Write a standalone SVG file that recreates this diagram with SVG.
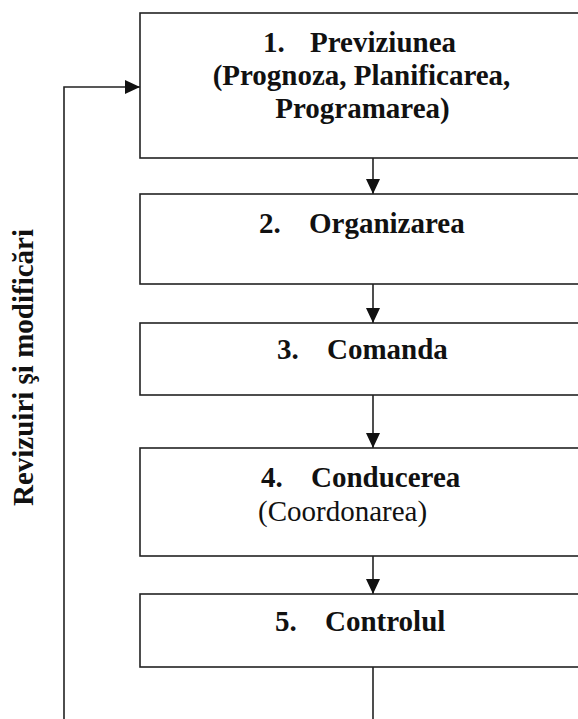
<svg xmlns="http://www.w3.org/2000/svg" width="578" height="719" viewBox="0 0 578 719">
<style>
.box{fill:#fff;stroke:#222;stroke-width:1.6}
.t{font-family:"Liberation Serif","Times New Roman",serif;font-size:29px;font-weight:bold;fill:#111}
.r{font-weight:normal}
.c{fill:none;stroke:#222;stroke-width:1.6}
</style>
<defs>
<marker id="ah" markerUnits="userSpaceOnUse" markerWidth="16" markerHeight="14" refX="15" refY="7" orient="auto">
<path d="M0,0 L15,7 L0,14 Z" fill="#111"/>
</marker>
</defs>
<rect width="578" height="719" fill="#fff"/>
<g id="connectors">
<line class="c" x1="373" y1="158" x2="373" y2="194" marker-end="url(#ah)"/>
<line class="c" x1="373" y1="284" x2="373" y2="323" marker-end="url(#ah)"/>
<line class="c" x1="373" y1="395" x2="373" y2="448" marker-end="url(#ah)"/>
<line class="c" x1="373" y1="556" x2="373" y2="594" marker-end="url(#ah)"/>
<line class="c" x1="373" y1="667" x2="373" y2="719"/>
<polyline class="c" points="64,719 64,87 140,87" marker-end="url(#ah)"/>
</g>
<g id="node1">
<rect class="box" x="140" y="13" width="450" height="145"/>
<text class="t"><tspan x="263" y="52">1.</tspan><tspan x="310" y="52">Previziunea</tspan></text>
<text class="t" x="361.5" y="85" text-anchor="middle">(Prognoza, Planificarea,</text>
<text class="t" x="362.5" y="118" text-anchor="middle">Programarea)</text>
</g>
<g id="node2">
<rect class="box" x="140" y="194" width="450" height="90"/>
<text class="t"><tspan x="259" y="233">2.</tspan><tspan x="309" y="233">Organizarea</tspan></text>
</g>
<g id="node3">
<rect class="box" x="140" y="323" width="450" height="72"/>
<text class="t"><tspan x="277" y="359">3.</tspan><tspan x="327" y="359">Comanda</tspan></text>
</g>
<g id="node4">
<rect class="box" x="140" y="448" width="450" height="108"/>
<text class="t"><tspan x="261" y="487">4.</tspan><tspan x="311" y="487">Conducerea</tspan></text>
<text class="t r" x="258" y="521">(Coordonarea)</text>
</g>
<g id="node5">
<rect class="box" x="140" y="594" width="450" height="73"/>
<text class="t"><tspan x="275" y="631">5.</tspan><tspan x="325" y="631">Controlul</tspan></text>
</g>
<g id="label">
<text class="t" transform="translate(33,367.5) rotate(-90)" text-anchor="middle">Revizuiri şi modificări</text>
</g>
</svg>
